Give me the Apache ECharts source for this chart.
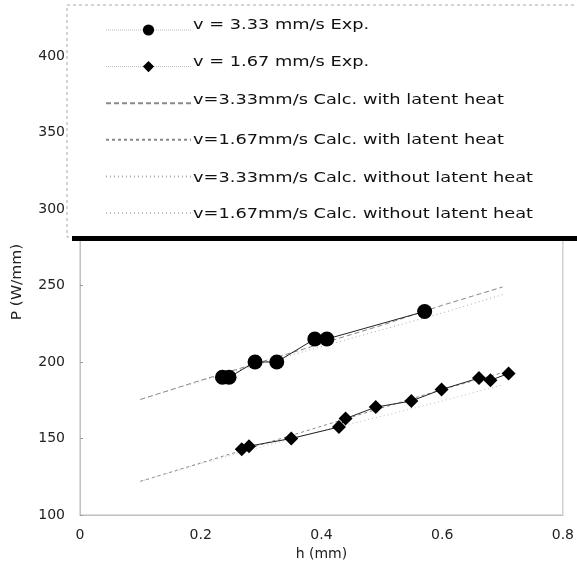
<!DOCTYPE html>
<html><head><meta charset="utf-8">
<script src="https://cdn.jsdelivr.net/npm/echarts@6/dist/echarts.min.js"></script>
<style>html,body{margin:0;padding:0;background:#fff}#c{width:577px;height:570px}</style>
</head><body><div id="c"></div>
<script>
// ---- data ----
const seriesNames = [
  'v = 3.33 mm/s Exp.',
  'v = 1.67 mm/s Exp.',
  'v=3.33mm/s Calc. with latent heat',
  'v=1.67mm/s Calc. with latent heat',
  'v=3.33mm/s Calc. without latent heat',
  'v=1.67mm/s Calc. without latent heat'
];
const hExp333 = [0.236, 0.247, 0.29, 0.326, 0.389, 0.409, 0.571];
const pExp333 = [190, 190, 200, 200, 215, 215, 233];
const hExp167 = [0.268, 0.28, 0.35, 0.429, 0.44, 0.49, 0.549, 0.599, 0.661, 0.68, 0.71];
const pExp167 = [143, 145, 150, 157.5, 163, 170.5, 174.5, 182, 189.5, 188, 192.5];
const hCalc = [0.1, 0.2, 0.3, 0.4, 0.5, 0.6, 0.7];
const pCalc333With = [175.5, 188, 200, 212, 224, 237, 249];
const pCalc167With = [122, 134, 146, 158, 170, 182, 193];
const pCalc333Without = [175.5, 187.5, 199, 210, 221, 232, 244];
const pCalc167Without = [122, 133.5, 144.5, 155, 164.5, 174.5, 185];
const xTicks = [0, 0.2, 0.4, 0.6, 0.8];
const yTicks = [100, 150, 200, 250, 300, 350, 400];
const xTitle = 'h (mm)';
const yTitle = 'P (W/mm)';

const zip = (a, b) => a.map((v, i) => [v, b[i]]);
const FONT = 'DejaVu Sans';

const chart = echarts.init(document.getElementById('c'), null, {renderer: 'canvas'});
const legendRowsY = [25, 62, 100, 140, 178, 214];
const hiddenSym = {opacity: 0, color: 'transparent', borderWidth: 0};

const option = {
  animation: false,
  backgroundColor: '#fff',
  grid: {left: 80, right: 14, top: 10, bottom: 55, show: true, borderColor: '#bbb', borderWidth: 1, backgroundColor: 'transparent'},
  xAxis: {
    type: 'value', min: 0, max: 0.8, interval: 0.2,
    name: xTitle, nameLocation: 'middle', nameGap: 28,
    nameTextStyle: {fontFamily: FONT, fontSize: 14, color: '#222'},
    axisLine: {show: true, lineStyle: {color: '#bbb', type: 'dotted'}},
    axisTick: {show: false},
    splitLine: {show: false},
    axisLabel: {fontFamily: FONT, fontSize: 14, color: '#222', margin: 13,
      formatter: v => xTicks.includes(+v.toFixed(1)) ? String(+v.toFixed(1)) : ''}
  },
  yAxis: {
    type: 'value', min: 100, max: 430, interval: 50,
    axisLine: {show: true, lineStyle: {color: '#bbb', type: 'dotted'}},
    axisTick: {show: true, inside: true, length: 3, lineStyle: {color: '#999'}},
    splitLine: {show: false},
    axisLabel: {fontFamily: FONT, fontSize: 14, color: '#222', margin: 15, showMaxLabel: false,
      formatter: v => yTicks.includes(v) ? String(v) : ''}
  },
  legend: {
    orient: 'vertical', left: 100, top: 18, itemWidth: 85, itemHeight: 14, itemGap: 24,
    z: 10, formatter: () => '',
    textStyle: {fontSize: 1},
    data: [
      {name: seriesNames[0], lineStyle: {color: '#bbb', type: 'dotted', width: 1}, symbolSize: 12},
      {name: seriesNames[1], lineStyle: {color: '#bbb', type: 'dotted', width: 1}},
      {name: seriesNames[2], itemStyle: hiddenSym},
      {name: seriesNames[3], itemStyle: hiddenSym},
      {name: seriesNames[4], itemStyle: hiddenSym},
      {name: seriesNames[5], itemStyle: hiddenSym}
    ]
  },
  series: [
    {name: seriesNames[0], type: 'line', data: zip(hExp333, pExp333), symbol: 'circle', symbolSize: 15,
      itemStyle: {color: '#000'}, lineStyle: {color: '#222', width: 1}, z: 5},
    {name: seriesNames[1], type: 'line', data: zip(hExp167, pExp167), symbol: 'diamond', symbolSize: 14,
      itemStyle: {color: '#000'}, lineStyle: {color: '#222', width: 1}, z: 5},
    {name: seriesNames[2], type: 'line', data: zip(hCalc, pCalc333With), symbol: 'none',
      lineStyle: {color: '#888', width: 1, type: [5, 3]}, itemStyle: {color: '#888'}},
    {name: seriesNames[3], type: 'line', data: zip(hCalc, pCalc167With), symbol: 'none',
      lineStyle: {color: '#888', width: 1, type: [3, 3]}, itemStyle: {color: '#888'}},
    {name: seriesNames[4], type: 'line', data: zip(hCalc, pCalc333Without), symbol: 'none',
      lineStyle: {color: '#aaa', width: 1, type: [1, 3]}, itemStyle: {color: '#aaa'}},
    {name: seriesNames[5], type: 'line', data: zip(hCalc, pCalc167Without), symbol: 'none',
      lineStyle: {color: '#bbb', width: 1, type: [1, 3]}, itemStyle: {color: '#bbb'}}
  ],
  graphic: [
    {type: 'rect', z: 8, shape: {x: 67, y: 5, width: 530, height: 232},
      style: {fill: '#fff', stroke: '#aaa', lineWidth: 1, lineDash: [3, 3]}},
    {type: 'rect', z: 9, shape: {x: 72, y: 236, width: 510, height: 5}, style: {fill: '#000'}},
    ...seriesNames.map((n, i) => ({
      type: 'text', z: 11, x: 193, y: legendRowsY[i], scaleX: 1.27,
      style: {text: n, font: '14px "' + FONT + '"', fill: '#111', textVerticalAlign: 'middle', textAlign: 'left'}
    })),
    {type: 'text', z: 11, x: 17, y: 282, rotation: Math.PI / 2, scaleX: 1.1,
      style: {text: yTitle, font: '14px "' + FONT + '"', fill: '#222', textAlign: 'center', textVerticalAlign: 'middle'}}
  ]
};
chart.setOption(option);
</script>
</body></html>
